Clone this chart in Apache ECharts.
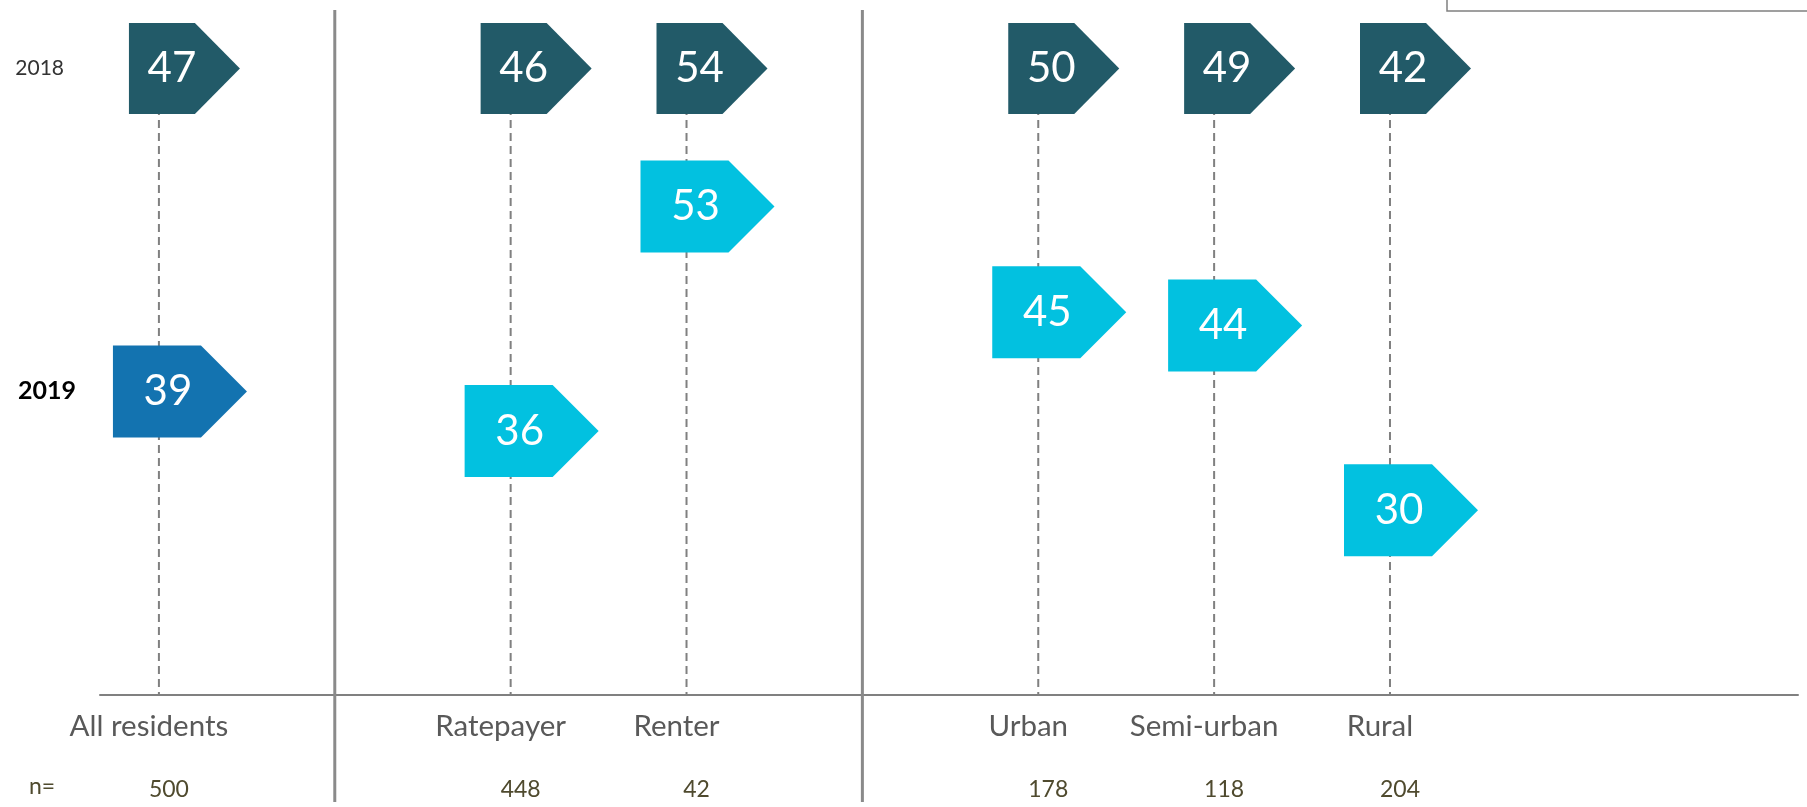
<!DOCTYPE html>
<html>
<head>
<meta charset="utf-8">
<title>2018 vs 2019 by group</title>
<script src="https://cdn.jsdelivr.net/npm/echarts@6/dist/echarts.min.js"></script>
<style>
  html, body { margin: 0; padding: 0; background: #fff; }
  #chart { width: 1807px; height: 807px; }
</style>
</head>
<body>
<div id="chart"></div>
<script>
  // groups of categories, split by a vertical rule
  const groups = [['All residents'], ['Ratepayer', 'Renter'], ['Urban', 'Semi-urban', 'Rural']];
  const sampleSizes = [500, 448, 42, 178, 118, 204];
  const scores2018 = [47, 46, 54, 50, 49, 42];
  const scores2019 = [39, 36, 53, 45, 44, 30];
  const years = ['2018', '2019'];

  // each group takes consecutive slots, one empty slot between groups
  const categories = [], slots = [], gapSlots = [];
  let s = 0;
  groups.forEach((g, gi) => {
    g.forEach(name => { categories.push(name); slots.push(s++); });
    if (gi < groups.length - 1) gapSlots.push(s++);
  });

  const FONT = 'Lato, "Noto Sans", sans-serif';
  const dark = '#225a68', total = '#1373b0', light = '#02c1e0';
  const Y_MIN = 16, Y_MAX = 63.5;

  function pentagon(left, cy, rectW, tip, h) {
    return [
      [left, cy - h / 2], [left + rectW, cy - h / 2], [left + rectW + tip, cy],
      [left + rectW, cy + h / 2], [left, cy + h / 2]
    ];
  }

  function nameOf(v) {
    const i = slots.indexOf(Math.round(v));
    return i < 0 ? '' : categories[i];
  }
  function nOf(v) {
    const i = slots.indexOf(Math.round(v));
    return i < 0 ? '' : String(sampleSizes[i]);
  }

  const chart = echarts.init(document.getElementById('chart'));
  const xBase = { type: 'value', min: -0.335, max: 9.32, splitLine: { show: false } };

  const option = {
    animation: false,
    backgroundColor: '#fff',
    textStyle: { fontFamily: FONT },
    grid: [
      { left: 100, right: 9, top: 68, bottom: 112, outerBoundsMode: 'none' },
      { left: 100, right: 9, top: 23, height: 91, outerBoundsMode: 'none' }
    ],
    xAxis: [
      Object.assign({}, xBase, {
        gridIndex: 0, position: 'bottom',
        axisLine: { show: true, lineStyle: { color: '#808080', width: 2 } },
        axisTick: { show: false },
        axisLabel: {
          customValues: slots, formatter: nameOf, margin: 13,
          padding: [0, 20, 0, 0],
          fontSize: 29.5, lineHeight: 36, color: '#595959', fontFamily: FONT
        }
      }),
      Object.assign({}, xBase, { gridIndex: 1, show: false }),
      Object.assign({}, xBase, {
        gridIndex: 0, position: 'bottom',
        axisLine: { show: false }, axisTick: { show: false },
        axisLabel: {
          customValues: slots, formatter: nOf, margin: 80,
          padding: [0, 0, 0, 20],
          fontSize: 23, lineHeight: 30, color: '#4f4a2e', fontFamily: FONT
        }
      })
    ],
    yAxis: [
      {
        type: 'value', gridIndex: 0, min: Y_MIN, max: Y_MAX,
        splitLine: { show: false }, axisLine: { show: false }, axisTick: { show: false },
        axisLabel: {
          customValues: [scores2019[0]], formatter: () => years[1], margin: 24,
          fontSize: 25, fontWeight: 'bold', color: '#000', fontFamily: FONT
        }
      },
      {
        type: 'category', gridIndex: 1, data: [years[0]],
        axisLine: { show: false }, axisTick: { show: false },
        axisLabel: { margin: 36, fontSize: 21, color: '#333', fontFamily: FONT }
      }
    ],
    graphic: [
      {
        type: 'rect', shape: { x: 1447, y: -10, width: 420, height: 21 },
        style: { fill: 'none', stroke: '#808080', lineWidth: 1.5 }
      },
      {
        type: 'text', left: 29, top: 775,
        style: { text: 'n=', fontSize: 23, fill: '#4f4a2e', fontFamily: FONT }
      }
    ],
    series: [
      {
        // vertical rules between the groups
        type: 'custom', xAxisIndex: 0, yAxisIndex: 0, clip: false, silent: true,
        data: gapSlots.map(g => [g, Y_MIN]),
        renderItem: function (params, api) {
          const x = api.coord([api.value(0), api.value(1)])[0];
          return {
            type: 'line',
            shape: { x1: x, y1: 10, x2: x, y2: 802 },
            style: { stroke: '#8a8a8a', lineWidth: 3 }
          };
        }
      },
      {
        name: years[1], type: 'custom', xAxisIndex: 0, yAxisIndex: 0, clip: false, z: 2,
        data: slots.map((x, i) => [x, scores2019[i]]),
        renderItem: function (params, api) {
          const p = api.coord([api.value(0), api.value(1)]);
          const cs = params.coordSys;
          const isTotal = groups[0].indexOf(categories[params.dataIndex]) >= 0;
          return {
            type: 'group',
            children: [
              {
                type: 'line',
                shape: { x1: p[0], y1: cs.y, x2: p[0], y2: cs.y + cs.height },
                style: { stroke: '#808080', lineWidth: 2, lineDash: [8, 5] }
              },
              {
                type: 'polygon',
                shape: { points: pentagon(p[0] - 46, p[1], 88, 46, 92) },
                style: { fill: isTotal ? total : light }
              },
              {
                type: 'text',
                style: {
                  text: String(api.value(1)), x: p[0] + 9, y: p[1],
                  align: 'center', verticalAlign: 'middle',
                  fontSize: 42, fontFamily: FONT, fill: '#fff'
                }
              }
            ]
          };
        }
      },
      {
        name: years[0], type: 'custom', xAxisIndex: 1, yAxisIndex: 1, clip: false, z: 3,
        data: slots.map((x, i) => [x, years[0], scores2018[i]]),
        renderItem: function (params, api) {
          const p = api.coord([api.value(0), api.value(1)]);
          return {
            type: 'group',
            children: [
              {
                type: 'polygon',
                shape: { points: pentagon(p[0] - 30, p[1], 66, 45, 91) },
                style: { fill: dark }
              },
              {
                type: 'text',
                style: {
                  text: String(api.value(2)), x: p[0] + 13, y: p[1],
                  align: 'center', verticalAlign: 'middle',
                  fontSize: 42, fontFamily: FONT, fill: '#fff'
                }
              }
            ]
          };
        }
      }
    ]
  };

  chart.setOption(option);
</script>
</body>
</html>
